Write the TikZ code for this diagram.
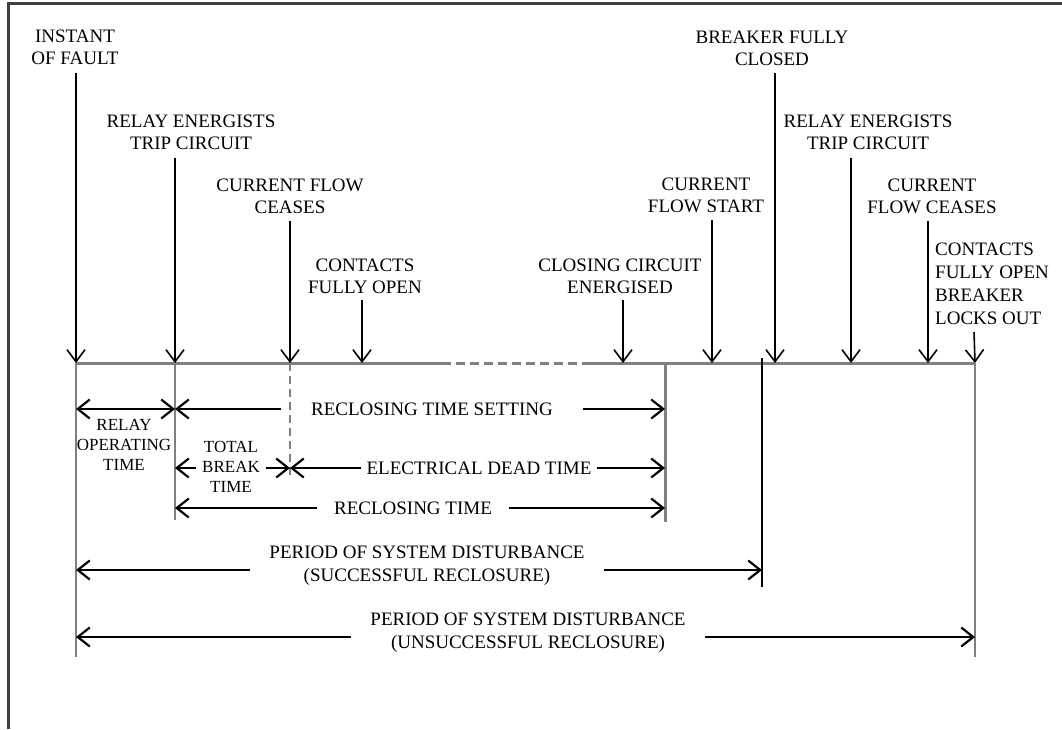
\documentclass[tikz,border=0pt]{standalone}
\usepackage{fontspec}
\setmainfont{Liberation Serif}
\usetikzlibrary{
    positioning,      % For placing nodes relative to each other
    arrows.meta,      % For open barb arrow tips
    calc              % For shifting the arrow start points
}

\begin{document}
\begin{tikzpicture}[
    x=1pt, y=-1pt,
    % Style for the frame and the time axis
    frame_style/.style={draw=black!75, line width=3pt},
    axis_style/.style={draw=gray, line width=3pt},
    guide_style/.style={draw=gray, line width=2pt},
    % Style for the event arrows coming down to the axis
    event_arrow/.style={
        draw=black, line width=1.6pt,
        -{Straight Barb[length=12pt, width=18pt]}
    },
    % Style for the dimension arrows below the axis
    dim_arrow/.style={
        draw=black, line width=2.2pt,
        -{Straight Barb[length=12pt, width=19pt]}
    },
    % Style for the text labels
    event_label/.style={
        font=\fontsize{19}{22}\selectfont,
        align=center, inner sep=0pt, anchor=south
    },
    dim_label/.style={
        font=\fontsize{19}{23}\selectfont,
        align=center, inner ysep=0pt
    },
    small_label/.style={
        font=\fontsize{17}{20}\selectfont,
        align=center, inner ysep=0pt
    }
]
    \useasboundingbox (0,0) rectangle (1062,729);

    % 1. Frame (only top and left edges are shown)
    \draw[frame_style] (8,729) -- (8,3) -- (1062,3);

    % 2. Points on the time axis
    \coordinate (fault_pt)   at (76,363);
    \coordinate (relay_pt)   at (175,363);
    \coordinate (cease_pt)   at (290,363);
    \coordinate (open_pt)    at (362,363);
    \coordinate (dash_a)     at (442,363);
    \coordinate (dash_b)     at (590,363);
    \coordinate (closing_pt) at (623,363);
    \coordinate (reclose_pt) at (665,363);
    \coordinate (start_pt)   at (712,363);
    \coordinate (success_pt) at (762,363);
    \coordinate (closed_pt)  at (775,363);
    \coordinate (relay2_pt)  at (851,363);
    \coordinate (cease2_pt)  at (928,363);
    \coordinate (lockout_pt) at (975,363);

    % 3. Time axis with the dashed gap
    \draw[axis_style] (fault_pt) -- (dash_a);
    \draw[axis_style, dash pattern=on 9pt off 5pt] (dash_a) -- (dash_b);
    \draw[axis_style] (dash_b) -- (lockout_pt);

    % 4. Event labels and their arrows
    \node[event_label] (fault_text) at (75,65) {INSTANT\\OF FAULT};
    \node[event_label] (relay_text) at (191,150) {RELAY ENERGISTS\\TRIP CIRCUIT};
    \node[event_label] (cease_text) at (290,214) {CURRENT FLOW\\CEASES};
    \node[event_label] (open_text) at (365,294) {CONTACTS\\FULLY OPEN};
    \node[event_label] (closing_text) at (620,294) {CLOSING CIRCUIT\\ENERGISED};
    \node[event_label] (start_text) at (706,213) {CURRENT\\FLOW START};
    \node[event_label] (closed_text) at (772,66) {BREAKER FULLY\\CLOSED};
    \node[event_label] (relay2_text) at (868,150) {RELAY ENERGISTS\\TRIP CIRCUIT};
    \node[event_label] (cease2_text) at (932,214) {CURRENT\\FLOW CEASES};
    \node[event_label, font=\fontsize{19}{23}\selectfont, align=left, anchor=south west]
        (lockout_text) at (935,325) {CONTACTS\\FULLY OPEN\\BREAKER\\LOCKS OUT};
    \coordinate (lockout_top) at (974,332);

    \draw[event_arrow] ($(fault_text.south -| fault_pt)+(0,8)$) -- (fault_pt);
    \draw[event_arrow] ($(relay_text.south -| relay_pt)+(0,8)$) -- (relay_pt);
    \draw[event_arrow] ($(cease_text.south -| cease_pt)+(0,7)$) -- (cease_pt);
    \draw[event_arrow] ($(open_text.south -| open_pt)+(0,6)$) -- (open_pt);
    \draw[event_arrow] ($(closing_text.south -| closing_pt)+(0,6)$) -- (closing_pt);
    \draw[event_arrow] ($(start_text.south -| start_pt)+(0,7)$) -- (start_pt);
    \draw[event_arrow] ($(closed_text.south -| closed_pt)+(0,7)$) -- (closed_pt);
    \draw[event_arrow] ($(relay2_text.south -| relay2_pt)+(0,8)$) -- (relay2_pt);
    \draw[event_arrow] ($(cease2_text.south -| cease2_pt)+(0,7)$) -- (cease2_pt);
    \draw[event_arrow] (lockout_top) -- (lockout_pt |- fault_pt);

    % 5. Guide lines below the axis
    \draw[guide_style] (fault_pt) -- (76,657);
    \draw[guide_style] (relay_pt) -- (175,520);
    \draw[guide_style, dash pattern=on 8pt off 5pt] (cease_pt) -- (290,477);
    \draw[axis_style] (reclose_pt) -- (665,522);
    \draw[draw=black, line width=1.2pt] ($(success_pt)+(0,-5)$) -- (762,587);
    \draw[guide_style] (lockout_pt) -- (975,657);

    % 6. Dimension rows
    \coordinate (row_a) at (0,409);
    \coordinate (row_b) at (0,468);
    \coordinate (row_c) at (0,508);
    \coordinate (row_d) at (0,570);
    \coordinate (row_e) at (0,637);

    % relay operating time
    \draw[dim_arrow, {Straight Barb[length=12pt, width=19pt]}-{Straight Barb[length=12pt, width=19pt]}]
        (fault_pt |- row_a) -- (relay_pt |- row_a);
    \node[small_label] (relayop_text) at (124,445) {RELAY\\OPERATING\\TIME};

    % reclosing time setting
    \node[dim_label, inner xsep=30pt] (setting_text) at (432,409) {RECLOSING TIME SETTING};
    \draw[dim_arrow] (setting_text.west) -- (relay_pt |- row_a);
    \draw[dim_arrow] (setting_text.east) -- (reclose_pt |- row_a);

    % total break time
    \node[small_label, inner xsep=6pt] (break_text) at (231,467) {TOTAL\\BREAK\\TIME};
    \draw[dim_arrow] (break_text.west |- row_b) -- (relay_pt |- row_b);
    \draw[dim_arrow] (break_text.east |- row_b) -- (cease_pt |- row_b);

    % electrical dead time
    \node[dim_label, inner xsep=5pt] (dead_text) at (479,468) {ELECTRICAL DEAD TIME};
    \draw[dim_arrow] (dead_text.west) -- (cease_pt |- row_b);
    \draw[dim_arrow] (dead_text.east) -- (reclose_pt |- row_b);

    % reclosing time
    \node[dim_label, inner xsep=17pt] (reclose_text) at (413,508) {RECLOSING TIME};
    \draw[dim_arrow] (reclose_text.west) -- (relay_pt |- row_c);
    \draw[dim_arrow] (reclose_text.east) -- (reclose_pt |- row_c);

    % period of system disturbance
    \node[dim_label, inner xsep=19pt] (success_text) at (427,566)
        {PERIOD OF SYSTEM DISTURBANCE\\(SUCCESSFUL RECLOSURE)};
    \draw[dim_arrow] (success_text.west |- row_d) -- (fault_pt |- row_d);
    \draw[dim_arrow] (success_text.east |- row_d) -- (success_pt |- row_d);

    \node[dim_label, inner xsep=19pt] (fail_text) at (528,633)
        {PERIOD OF SYSTEM DISTURBANCE\\(UNSUCCESSFUL RECLOSURE)};
    \draw[dim_arrow] (fail_text.west |- row_e) -- (fault_pt |- row_e);
    \draw[dim_arrow] (fail_text.east |- row_e) -- (lockout_pt |- row_e);

\end{tikzpicture}
\end{document}
